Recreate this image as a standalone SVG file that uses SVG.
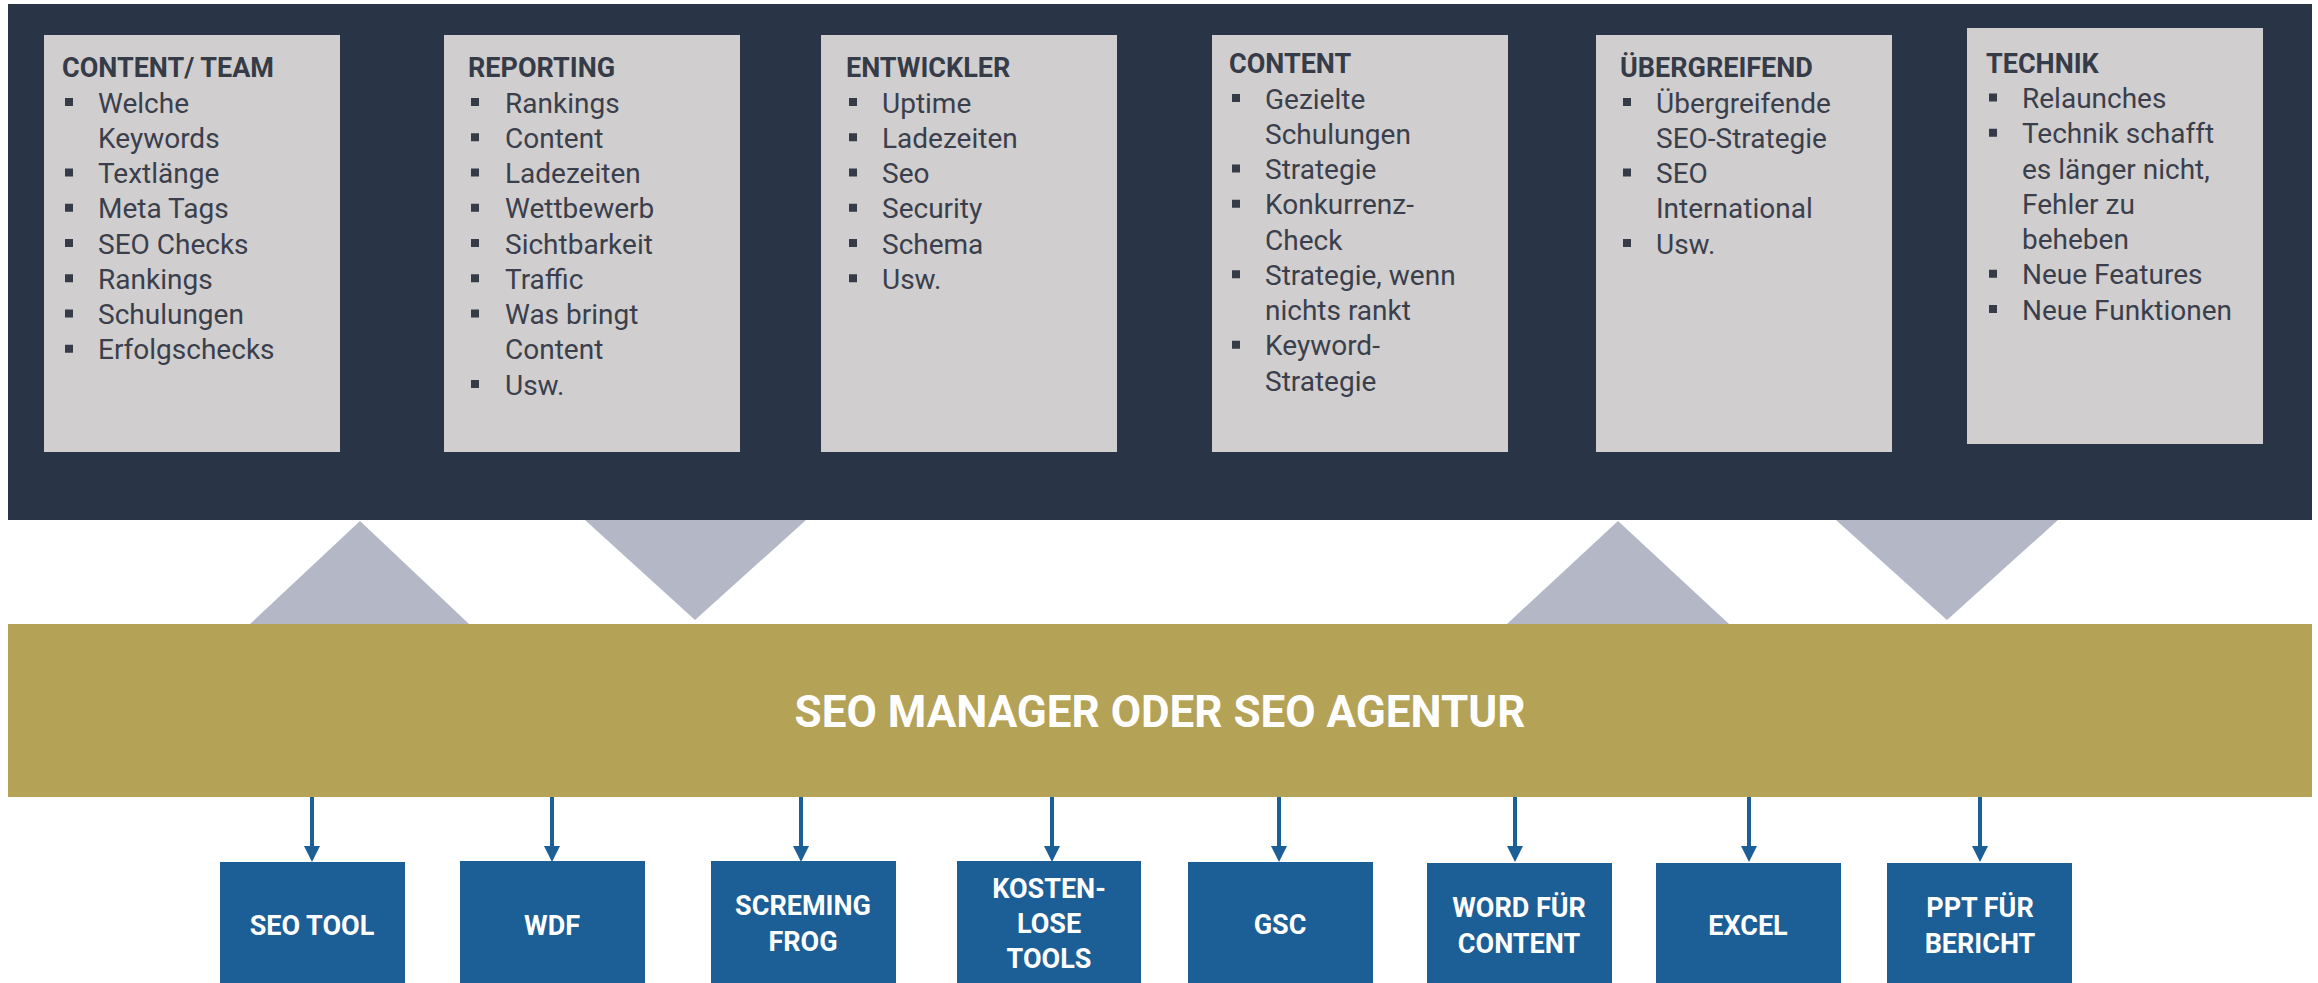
<svg xmlns="http://www.w3.org/2000/svg" width="2318" height="983" viewBox="0 0 2318 983">
<defs>
<style>
.panel{fill:#293547}
.card{fill:#d0cecf}
.h{font-family:Roboto,"Open Sans",sans-serif;font-weight:700;font-size:27px;fill:#363b48}
.t{font-family:Roboto,"Open Sans",sans-serif;font-size:28px;fill:#3b3f4c}
.b{fill:#363b48}
.tri{fill:#b3b7c6}
.band{fill:#b4a256}
.bandtxt{font-family:Roboto,"Open Sans",sans-serif;font-weight:700;font-size:44px;fill:#ffffff;text-anchor:middle}
.tool{fill:#1c5e96}
.tooltxt{font-family:Roboto,"Open Sans",sans-serif;font-weight:700;font-size:27px;fill:#ffffff;text-anchor:middle}
.conn{stroke:#1c5e96;stroke-width:4;fill:none}
</style>
<marker id="ah" markerWidth="16" markerHeight="16" refX="3" refY="8" orient="auto" markerUnits="userSpaceOnUse">
<path d="M0,0 L16,8 L0,16 z" fill="#1c5e96"/>
</marker>
</defs>
<rect x="0" y="0" width="2318" height="983" fill="#ffffff"/>
<rect class="panel" x="8" y="4" width="2304" height="516"/>

<g id="card-content-team">
<rect class="card" x="44" y="35" width="296" height="417"/>
<text class="h" x="62" y="77">CONTENT/ TEAM</text>
<rect class="b" x="65" y="98" width="8" height="8"/><text class="t" x="98" y="112.5">Welche</text>
<text class="t" x="98" y="147.75">Keywords</text>
<rect class="b" x="65" y="168.5" width="8" height="8"/><text class="t" x="98" y="183">Textlänge</text>
<rect class="b" x="65" y="203.75" width="8" height="8"/><text class="t" x="98" y="218.25">Meta Tags</text>
<rect class="b" x="65" y="239" width="8" height="8"/><text class="t" x="98" y="253.5">SEO Checks</text>
<rect class="b" x="65" y="274.25" width="8" height="8"/><text class="t" x="98" y="288.75">Rankings</text>
<rect class="b" x="65" y="309.5" width="8" height="8"/><text class="t" x="98" y="324">Schulungen</text>
<rect class="b" x="65" y="344.75" width="8" height="8"/><text class="t" x="98" y="359.25">Erfolgschecks</text>
</g>

<g id="card-reporting">
<rect class="card" x="444" y="35" width="296" height="417"/>
<text class="h" x="468" y="77">REPORTING</text>
<rect class="b" x="471" y="98" width="8" height="8"/><text class="t" x="505" y="112.5">Rankings</text>
<rect class="b" x="471" y="133.25" width="8" height="8"/><text class="t" x="505" y="147.75">Content</text>
<rect class="b" x="471" y="168.5" width="8" height="8"/><text class="t" x="505" y="183">Ladezeiten</text>
<rect class="b" x="471" y="203.75" width="8" height="8"/><text class="t" x="505" y="218.25">Wettbewerb</text>
<rect class="b" x="471" y="239" width="8" height="8"/><text class="t" x="505" y="253.5">Sichtbarkeit</text>
<rect class="b" x="471" y="274.25" width="8" height="8"/><text class="t" x="505" y="288.75">Traffic</text>
<rect class="b" x="471" y="309.5" width="8" height="8"/><text class="t" x="505" y="324">Was bringt</text>
<text class="t" x="505" y="359.25">Content</text>
<rect class="b" x="471" y="380" width="8" height="8"/><text class="t" x="505" y="394.5">Usw.</text>
</g>

<g id="card-entwickler">
<rect class="card" x="821" y="35" width="296" height="417"/>
<text class="h" x="846" y="77">ENTWICKLER</text>
<rect class="b" x="849" y="98" width="8" height="8"/><text class="t" x="882" y="112.5">Uptime</text>
<rect class="b" x="849" y="133.25" width="8" height="8"/><text class="t" x="882" y="147.75">Ladezeiten</text>
<rect class="b" x="849" y="168.5" width="8" height="8"/><text class="t" x="882" y="183">Seo</text>
<rect class="b" x="849" y="203.75" width="8" height="8"/><text class="t" x="882" y="218.25">Security</text>
<rect class="b" x="849" y="239" width="8" height="8"/><text class="t" x="882" y="253.5">Schema</text>
<rect class="b" x="849" y="274.25" width="8" height="8"/><text class="t" x="882" y="288.75">Usw.</text>
</g>

<g id="card-content">
<rect class="card" x="1212" y="35" width="296" height="417"/>
<text class="h" x="1229" y="73">CONTENT</text>
<rect class="b" x="1232" y="94" width="8" height="8"/><text class="t" x="1265" y="108.5">Gezielte</text>
<text class="t" x="1265" y="143.75">Schulungen</text>
<rect class="b" x="1232" y="164.5" width="8" height="8"/><text class="t" x="1265" y="179">Strategie</text>
<rect class="b" x="1232" y="199.75" width="8" height="8"/><text class="t" x="1265" y="214.25">Konkurrenz-</text>
<text class="t" x="1265" y="249.5">Check</text>
<rect class="b" x="1232" y="270.25" width="8" height="8"/><text class="t" x="1265" y="284.75">Strategie, wenn</text>
<text class="t" x="1265" y="320">nichts rankt</text>
<rect class="b" x="1232" y="340.75" width="8" height="8"/><text class="t" x="1265" y="355.25">Keyword-</text>
<text class="t" x="1265" y="390.5">Strategie</text>
</g>

<g id="card-uebergreifend">
<rect class="card" x="1596" y="35" width="296" height="417"/>
<text class="h" x="1620" y="77">ÜBERGREIFEND</text>
<rect class="b" x="1623" y="98" width="8" height="8"/><text class="t" x="1656" y="112.5">Übergreifende</text>
<text class="t" x="1656" y="147.75">SEO-Strategie</text>
<rect class="b" x="1623" y="168.5" width="8" height="8"/><text class="t" x="1656" y="183">SEO</text>
<text class="t" x="1656" y="218.25">International</text>
<rect class="b" x="1623" y="239" width="8" height="8"/><text class="t" x="1656" y="253.5">Usw.</text>
</g>

<g id="card-technik">
<rect class="card" x="1967" y="28" width="296" height="416"/>
<text class="h" x="1986" y="73">TECHNIK</text>
<rect class="b" x="1989" y="93.5" width="8" height="8"/><text class="t" x="2022" y="108">Relaunches</text>
<rect class="b" x="1989" y="128.75" width="8" height="8"/><text class="t" x="2022" y="143.25">Technik schafft</text>
<text class="t" x="2022" y="178.5">es länger nicht,</text>
<text class="t" x="2022" y="213.75">Fehler zu</text>
<text class="t" x="2022" y="249">beheben</text>
<rect class="b" x="1989" y="269.75" width="8" height="8"/><text class="t" x="2022" y="284.25">Neue Features</text>
<rect class="b" x="1989" y="305" width="8" height="8"/><text class="t" x="2022" y="319.5">Neue Funktionen</text>
</g>

<g id="triangles">
<polygon class="tri" points="360,521 469,624 250,624"/>
<polygon class="tri" points="585,520 806,520 695,620"/>
<polygon class="tri" points="1618,521 1729,624 1507,624"/>
<polygon class="tri" points="1836,520 2058,520 1947,620"/>
</g>

<g id="seo-manager">
<rect class="band" x="8" y="624" width="2304" height="173"/>
<text class="bandtxt" x="1160" y="727">SEO MANAGER ODER SEO AGENTUR</text>
</g>

<g id="connectors">
<line class="conn" x1="312" y1="797" x2="312" y2="849" marker-end="url(#ah)"/>
<line class="conn" x1="552" y1="797" x2="552" y2="849" marker-end="url(#ah)"/>
<line class="conn" x1="801" y1="797" x2="801" y2="849" marker-end="url(#ah)"/>
<line class="conn" x1="1052" y1="797" x2="1052" y2="849" marker-end="url(#ah)"/>
<line class="conn" x1="1279" y1="797" x2="1279" y2="849" marker-end="url(#ah)"/>
<line class="conn" x1="1515" y1="797" x2="1515" y2="849" marker-end="url(#ah)"/>
<line class="conn" x1="1749" y1="797" x2="1749" y2="849" marker-end="url(#ah)"/>
<line class="conn" x1="1980" y1="797" x2="1980" y2="849" marker-end="url(#ah)"/>
</g>

<g id="tool-seo-tool">
<rect class="tool" x="220" y="862" width="185" height="125"/>
<text class="tooltxt" x="312" y="935">SEO TOOL</text>
</g>
<g id="tool-wdf">
<rect class="tool" x="460" y="861" width="185" height="126"/>
<text class="tooltxt" x="552" y="935">WDF</text>
</g>
<g id="tool-screming-frog">
<rect class="tool" x="711" y="861" width="185" height="126"/>
<text class="tooltxt" x="803" y="915">SCREMING</text>
<text class="tooltxt" x="803" y="950.5">FROG</text>
</g>
<g id="tool-kostenlose-tools">
<rect class="tool" x="957" y="861" width="184" height="126"/>
<text class="tooltxt" x="1049" y="898">KOSTEN-</text>
<text class="tooltxt" x="1049" y="933">LOSE</text>
<text class="tooltxt" x="1049" y="968">TOOLS</text>
</g>
<g id="tool-gsc">
<rect class="tool" x="1188" y="862" width="185" height="125"/>
<text class="tooltxt" x="1280" y="934">GSC</text>
</g>
<g id="tool-word">
<rect class="tool" x="1427" y="863" width="185" height="124"/>
<text class="tooltxt" x="1519" y="917">WORD FÜR</text>
<text class="tooltxt" x="1519" y="952.5">CONTENT</text>
</g>
<g id="tool-excel">
<rect class="tool" x="1656" y="863" width="185" height="124"/>
<text class="tooltxt" x="1748" y="935">EXCEL</text>
</g>
<g id="tool-ppt">
<rect class="tool" x="1887" y="863" width="185" height="124"/>
<text class="tooltxt" x="1980" y="917">PPT FÜR</text>
<text class="tooltxt" x="1980" y="952.5">BERICHT</text>
</g>
</svg>
